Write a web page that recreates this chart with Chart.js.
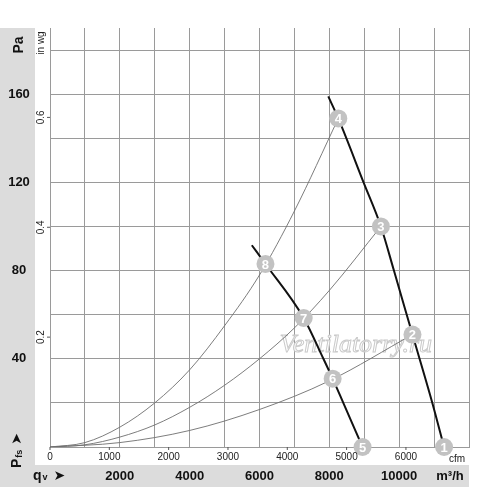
<!DOCTYPE html>
<html>
<head>
<meta charset="utf-8">
<script src="https://cdn.jsdelivr.net/npm/chart.js@4.4.1/dist/chart.umd.min.js"></script>
<style>
  body { margin: 0; background: #fff; }
  #wrap { width: 500px; height: 487px; position: relative; }
</style>
</head>
<body>
<div id="wrap"><canvas id="fanChart"></canvas></div>
<script>
// tick labels
const flowTicks = [2000, 4000, 6000, 8000, 10000];   // m3/h, bottom band
const paTicks = [40, 80, 120, 160];                  // Pa, left band
const cfmTicks = [0, 1000, 2000, 3000, 4000, 5000, 6000];
const inwgTicks = [0.2, 0.4, 0.6];

// fan curves [m3/h, Pa]
const fanHigh = [[7970, 159], [8257, 149], [8980, 120], [9477, 100], [9850, 80], [10381, 51], [10950, 20], [11286, 0]];
const fanLow = [[5780, 91.5], [6171, 83], [7266, 58.5], [7830, 40], [8095, 31], [8400, 20], [8952, 0]];

// system curves [m3/h, Pa]
const system1 = [[0, 0], [1000, 2], [2000, 9], [3000, 20], [4000, 35], [5000, 55], [6000, 78], [7000, 107], [8257, 149]];
const system2 = [[0, 0], [1000, 1], [2000, 4.5], [3000, 10], [4000, 18], [5000, 28], [6000, 40], [7000, 54], [8000, 71], [9477, 100]];
const system3 = [[0, 0], [2000, 2], [4000, 7.5], [6000, 17], [8000, 30], [10381, 51]];

// numbered operating points
const pointNo = [1, 2, 3, 4, 5, 6, 7, 8];
const pointFlow = [11286, 10381, 9477, 8257, 8952, 8095, 7266, 6171];
const pointPa = [0, 51, 100, 149, 0, 31, 58.5, 83];

const CFM = 1.699;      // m3/h per cfm
const INWG = 249.09;    // Pa per in wg
const gridColor = '#9a9a9a';
const bandColor = '#dcdcdc';
const sans = '"Liberation Sans", Arial, sans-serif';

const xy = arr => arr.map(p => ({ x: p[0], y: p[1] }));

const curve = (pts, color, width, order) => ({
  data: xy(pts),
  showLine: true,
  borderColor: color,
  borderWidth: width,
  pointRadius: 0,
  cubicInterpolationMode: 'monotone',
  order: order
});

const decor = {
  id: 'decor',
  beforeDraw(chart) {
    const { ctx, chartArea: a } = chart;
    ctx.save();
    ctx.fillStyle = bandColor;
    ctx.fillRect(0, a.top, a.left - 15, chart.height - a.top);
    ctx.fillRect(0, a.bottom + 18, a.right, chart.height - a.bottom - 18);
    ctx.restore();
  },
  beforeDatasetsDraw(chart) {
    const { ctx, chartArea: a } = chart;
    ctx.save();
    ctx.font = 'italic 26px "Liberation Serif", serif';
    ctx.textAlign = 'center';
    ctx.fillStyle = 'rgba(255,255,255,0.9)';
    ctx.strokeStyle = '#cacaca';
    ctx.lineWidth = 1;
    const wx = a.left + (a.right - a.left) * 0.73, wy = a.bottom - 95;
    ctx.fillText('Ventilatorry.ru', wx, wy);
    ctx.strokeText('Ventilatorry.ru', wx, wy);
    ctx.restore();
  },
  afterDatasetsDraw(chart) {
    const { ctx } = chart;
    const meta = chart.getDatasetMeta(0);
    ctx.save();
    ctx.fillStyle = '#fff';
    ctx.font = 'bold 13px ' + sans;
    ctx.textAlign = 'center';
    ctx.textBaseline = 'middle';
    meta.data.forEach((el, i) => ctx.fillText(String(pointNo[i]), el.x, el.y + 1));
    ctx.restore();
  },
  afterDraw(chart) {
    const { ctx, chartArea: a, scales: { x, y } } = chart;
    ctx.save();
    ctx.fillStyle = '#111';
    ctx.textBaseline = 'middle';

    // Pa labels
    ctx.font = 'bold 13px ' + sans;
    ctx.textAlign = 'center';
    paTicks.forEach(v => ctx.fillText(String(v), 19, y.getPixelForValue(v)));
    // m3/h labels
    flowTicks.forEach(v => ctx.fillText(String(v), x.getPixelForValue(v), a.bottom + 29));
    ctx.fillText('m\u00b3/h', a.right - 19, a.bottom + 29);

    // cfm labels and ticks
    ctx.font = '10px ' + sans;
    ctx.fillStyle = '#222';
    ctx.strokeStyle = '#555';
    ctx.lineWidth = 1;
    cfmTicks.forEach(v => {
      const px = x.getPixelForValue(v * CFM);
      ctx.beginPath();
      ctx.moveTo(px, a.bottom);
      ctx.lineTo(px, a.bottom + 3);
      ctx.stroke();
      ctx.fillText(String(v), px, a.bottom + 10);
    });
    ctx.fillText('cfm', a.right - 12, a.bottom + 12);

    // in wg labels (rotated)
    inwgTicks.forEach(v => {
      const py = y.getPixelForValue(v * INWG);
      ctx.beginPath();
      ctx.moveTo(a.left - 3, py);
      ctx.lineTo(a.left, py);
      ctx.stroke();
      ctx.save();
      ctx.translate(a.left - 9, py);
      ctx.rotate(-Math.PI / 2);
      ctx.textAlign = 'center';
      ctx.fillText(v.toFixed(1), 0, 0);
      ctx.restore();
    });
    ctx.save();
    ctx.translate(a.left - 9, a.top + 15);
    ctx.rotate(-Math.PI / 2);
    ctx.textAlign = 'center';
    ctx.fillText('in wg', 0, 0);
    ctx.restore();

    // Pa and Pfs (rotated), qv
    ctx.fillStyle = '#111';
    ctx.save();
    ctx.translate(19, a.top + 17);
    ctx.rotate(-Math.PI / 2);
    ctx.textAlign = 'center';
    ctx.font = 'bold 14px ' + sans;
    ctx.fillText('Pa', 0, 0);
    ctx.restore();

    ctx.save();
    ctx.translate(17, a.bottom + 21);
    ctx.rotate(-Math.PI / 2);
    ctx.textAlign = 'left';
    ctx.font = 'bold 14px ' + sans;
    ctx.fillText('P', 0, 0);
    let w = ctx.measureText('P').width;
    ctx.font = 'bold 9px ' + sans;
    ctx.fillText('fs', w + 1, 3);
    w += ctx.measureText('fs').width + 6;
    ctx.font = 'bold 14px "DejaVu Sans", sans-serif';
    ctx.fillText('\u27a4', w, 0);
    ctx.restore();

    ctx.textAlign = 'left';
    ctx.font = 'bold 14px ' + sans;
    ctx.fillText('q', 33, a.bottom + 29);
    w = ctx.measureText('q').width;
    ctx.font = 'bold 9px ' + sans;
    ctx.fillText('v', 33 + w + 1, a.bottom + 31);
    ctx.font = 'bold 14px "DejaVu Sans", sans-serif';
    ctx.fillText('\u27a4', 33 + w + 12, a.bottom + 29);
    ctx.restore();
  }
};

new Chart(document.getElementById('fanChart'), {
  type: 'scatter',
  data: {
    datasets: [
      {
        data: pointFlow.map((v, i) => ({ x: v, y: pointPa[i] })),
        pointRadius: 9,
        pointBackgroundColor: '#c2c2c2',
        pointBorderWidth: 0,
        showLine: false,
        clip: false,
        order: 0
      },
      curve(fanHigh, '#111', 2, 1),
      curve(fanLow, '#111', 2, 1),
      curve(system1, '#6e6e6e', 0.9, 2),
      curve(system2, '#6e6e6e', 0.9, 2),
      curve(system3, '#6e6e6e', 0.9, 2)
    ]
  },
  options: {
    responsive: true,
    maintainAspectRatio: false,
    animation: false,
    layout: { padding: { left: 50, top: 28, right: 31, bottom: 40 } },
    plugins: { legend: { display: false }, tooltip: { enabled: false } },
    scales: {
      x: {
        type: 'linear', min: 0, max: 12000,
        ticks: { display: false, stepSize: 1000 },
        grid: { color: gridColor, drawTicks: false },
        border: { color: gridColor }
      },
      y: {
        type: 'linear', min: 0, max: 190,
        ticks: { display: false, stepSize: 20, includeBounds: false },
        grid: { color: gridColor, drawTicks: false },
        border: { color: gridColor }
      }
    }
  },
  plugins: [decor]
});
</script>
</body>
</html>
